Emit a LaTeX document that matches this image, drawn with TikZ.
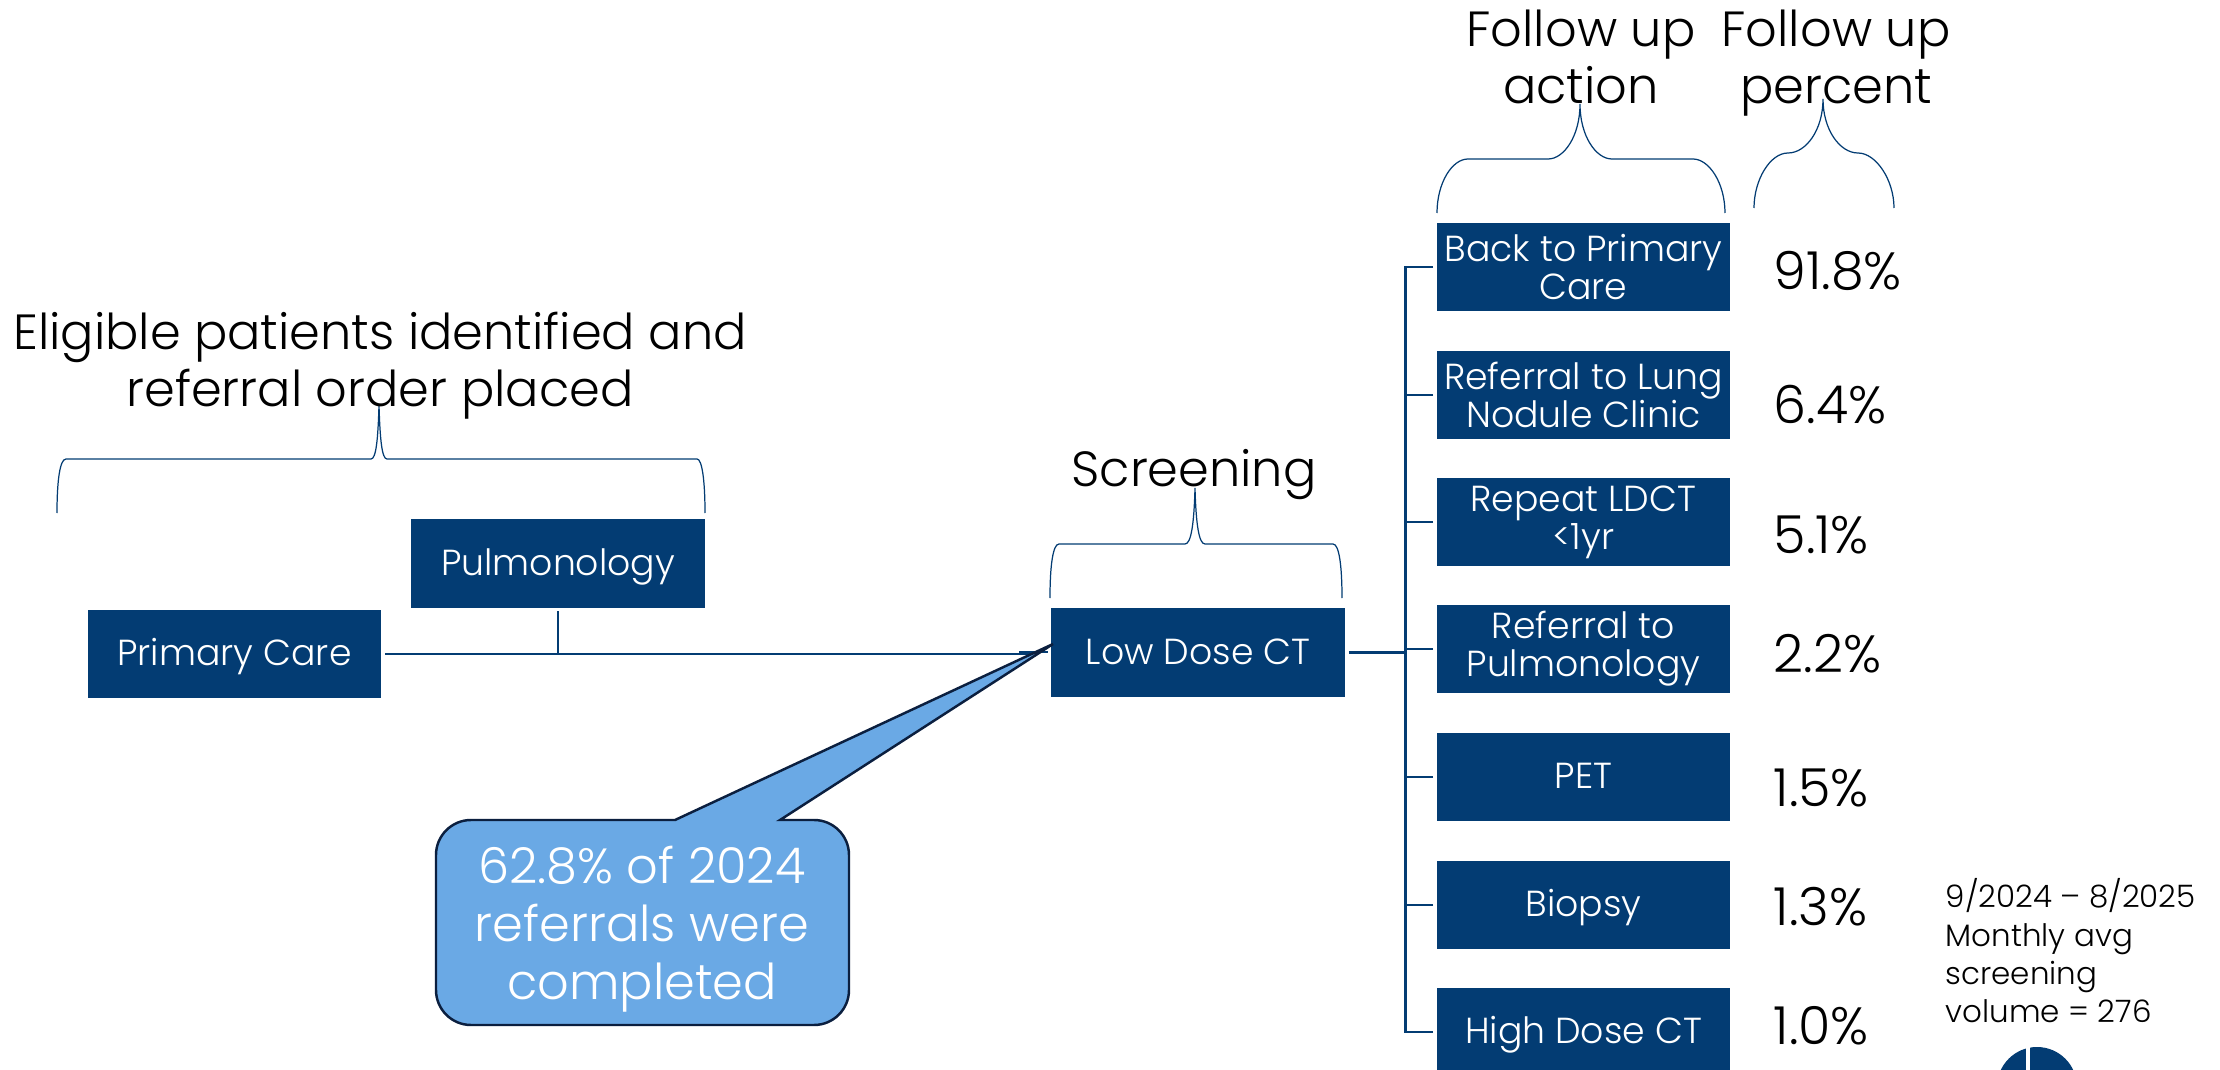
\documentclass[tikz,border=0pt]{standalone}
\usepackage{fontspec}
\setmainfont{Poppins}[UprightFont=* Light]
\definecolor{navy}{HTML}{033C73}
\definecolor{callfill}{HTML}{6AA9E5}
\definecolor{calledge}{HTML}{0B1F3F}
\tikzset{
  bx/.style={fill=navy,text=white,minimum width=2.93cm,minimum height=0.88cm,inner sep=0pt,align=center,font=\fontsize{10.3pt}{10.8pt}\selectfont},
  bxs/.style={bx,text height=6.7pt,text depth=0pt},
  hd/.style={text=black,align=center,inner sep=0pt,font=\fontsize{14.05pt}{16.2pt}\selectfont},
  pct/.style={text=black,anchor=west,inner sep=0pt,font=\fontsize{14.9pt}{16pt}\selectfont},
  conn/.style={draw=navy,line width=0.85pt},
  brc/.style={draw=navy,line width=0.35pt}
}
\begin{document}
\begin{tikzpicture}[x=0.01cm,y=-0.01cm]
\clip (0,0) rectangle (2220,1070);
\fill[white] (0,0) rectangle (2220,1070);
% boxes
\node[bxs,minimum width=2.935cm] (pc) at (234.5,654) {Primary Care};
\node[bxs,minimum width=2.935cm] (pu) at (558,563.5) {Pulmonology};
\node[bxs,minimum width=2.94cm] (ld) at (1198,652.5) {Low Dose CT};
\node[bx] (a1) at (1583.5,267) {Back to Primary\\Care};
\node[bx] (a2) at (1583.5,395) {Referral to Lung\\Nodule Clinic};
\node[bx] (a3) at (1583.5,522) {Repeat LDCT\\<1yr};
\node[bx] (a4) at (1583.5,649) {Referral to\\Pulmonology};
\node[bxs] (a5) at (1583.5,777) {PET};
\node[bxs] (a6) at (1583.5,905) {Biopsy};
\node[bxs] (a7) at (1583.5,1032) {High Dose CT};
% connectors
\coordinate (trunkT) at (1405,267);
\coordinate (trunkB) at (1405,1032);
\coordinate (mid) at (558,654);
\coordinate (lineend) at (1030,654);
\coordinate (stubA) at (1019,652);
\coordinate (stubB) at (1048,652);
\draw[conn,line width=0.7pt] ([xshift=0.03cm]pc.east) -- (lineend);
\draw[conn,line width=0.5pt] (stubA) -- (stubB);
\draw[conn] ([yshift=-0.03cm]pu.south) -- (mid);
\draw[conn] ([xshift=0.03cm]ld.east) -- (ld.east -| trunkT);
\draw[conn,line cap=rect] (trunkT) -- (trunkB);
\foreach \n in {a1,a2,a3,a4,a5,a6,a7}{
  \draw[conn,line width=0.75pt] ([xshift=-0.03cm]\n.west) -- (\n.west -| trunkT);
}
% braces
\draw[brc] (57,513) .. controls (57,480) and (60,459) .. (66,459) -- (371,459) .. controls (376,459) and (378,440) .. (379,405)
  .. controls (380,440) and (382,459) .. (387,459) -- (697,459) .. controls (702,459) and (705,480) .. (705,513);
\draw[brc] (1050,598) .. controls (1050,565) and (1053,544) .. (1059,544) -- (1185,544) .. controls (1191,544) and (1194,525) .. (1195,488)
  .. controls (1196,525) and (1199,544) .. (1205,544) -- (1333,544) .. controls (1339,544) and (1342,565) .. (1342,598);
\draw[brc] (1437,213) .. controls (1437,183) and (1452,159) .. (1468,159) -- (1548,159) .. controls (1564,159) and (1580,136) .. (1580,104)
  .. controls (1580,136) and (1596,159) .. (1612,159) -- (1693,159) .. controls (1709,159) and (1725,183) .. (1725,213);
\draw[brc] (1754,208) .. controls (1754,180) and (1770,153) .. (1788,153) .. controls (1806,153) and (1823,130) .. (1823,99)
  .. controls (1823,130) and (1840,153) .. (1858,153) .. controls (1876,153) and (1894,180) .. (1894,208);
% headings
\node[hd] (h1) at (380,366) {Eligible patients identified and\\referral order placed};
\node[hd] (h2) at (1194,475) {Screening};
\node[hd] (h3) at (1581,57) {Follow up\\action};
\node[hd] (h4) at (1836,63) {Follow up\\percent};
% percentages
\node[pct] (p1) at (1773,271) {91.8\%};
\node[pct] (p2) at (1773,405) {6.4\%};
\node[pct] (p3) at (1773,535) {5.1\%};
\node[pct] (p4) at (1773,654) {2.2\%};
\node[pct] (p5) at (1773,788) {1.5\%};
\node[pct] (p6) at (1773,907) {1.3\%};
\node[pct] (p7) at (1773,1026) {1.0\%};
% callout
\draw[fill=callfill,draw=calledge,line width=0.7pt]
  (780,820) -- (1053,644) -- (675,820) -- (471,820) arc[start angle=270,end angle=180,radius=35] -- (436,990)
  arc[start angle=180,end angle=90,radius=35] -- (814,1025) arc[start angle=90,end angle=0,radius=35] -- (849,855)
  arc[start angle=0,end angle=-90,radius=35] -- cycle;
\node[text=white,align=center,inner sep=0pt,font=\fontsize{14.05pt}{16.4pt}\selectfont] (co) at (642,929) {62.8\% of 2024\\referrals were\\completed};
% note
\node[anchor=north west,align=left,inner sep=0pt,font=\fontsize{8.8pt}{10.9pt}\selectfont] (nt) at (1945,878) {9/2024 – 8/2025\\Monthly avg\\screening\\volume = 276};
% logo fragment
\begin{scope}
\clip (2000,1040) rectangle (2080,1070);
\fill[navy] (2037,1087) circle[radius=40];
\fill[white] (2026,1040) rectangle (2030,1070);
\end{scope}
\end{tikzpicture}
\end{document}
